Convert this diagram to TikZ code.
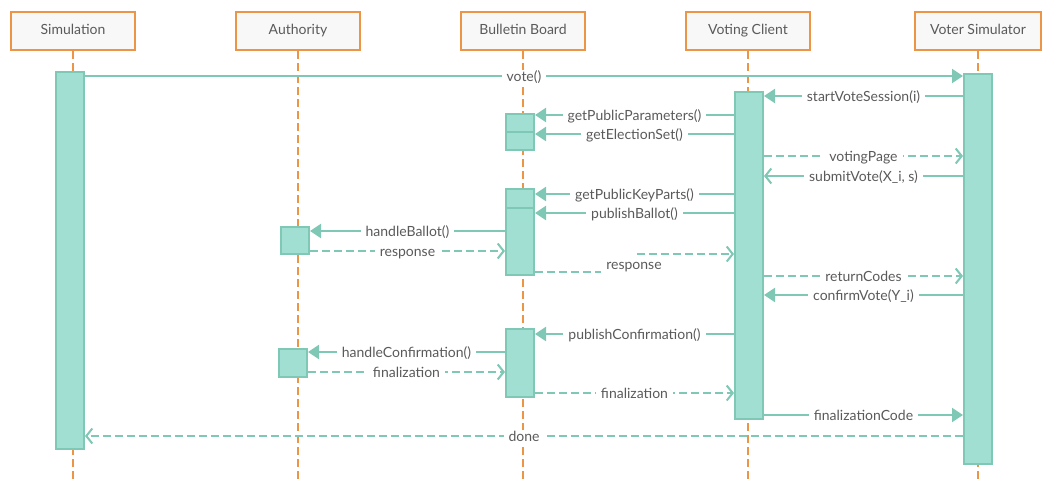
\documentclass[tikz,border=0pt]{standalone}
\usepackage{fontspec}
\setmainfont{Lato}
\usetikzlibrary{arrows.meta}
\definecolor{orng}{HTML}{EC9547}
\definecolor{teal}{HTML}{7FC8B6}
\definecolor{tealfill}{HTML}{A0DFD2}
\definecolor{headfill}{HTML}{F8F8F8}
\definecolor{txt}{HTML}{5A5A5A}
\tikzset{
  head/.style={draw=orng, line width=2pt, fill=headfill, minimum width=124, minimum height=38, text=txt, font=\fontsize{14}{16}\selectfont, anchor=north, inner sep=0pt, text height=10pt, text depth=3pt},
  life/.style={draw=orng, line width=2pt, dash pattern=on 8pt off 4pt},
  bar/.style={draw=teal, line width=2pt, fill=tealfill, minimum width=28, anchor=north, inner sep=0pt},
  msg/.style={draw=teal, line width=2pt, -{Triangle[length=11pt,width=14pt]}},
  rmsg/.style={draw=teal, line width=2pt, -{Straight Barb[length=6pt,width=15pt,line width=2pt]}},
  ret/.style={draw=teal, line width=2pt, dash pattern=on 8pt off 4pt, -{Straight Barb[length=6pt,width=15pt,line width=2pt]}},
  lbl/.style={fill=white, text=txt, font=\fontsize{14}{16}\selectfont, inner xsep=5pt, inner ysep=1pt, text height=10pt, text depth=3pt, yshift=-1.5pt}
}
\begin{document}
\begin{tikzpicture}[x=1pt,y=-1pt]
\useasboundingbox (0,0) rectangle (1055,490);
% heads
\node[head] (hsim) at (73,11) {Simulation};
\node[head] (hauth) at (298,11) {Authority};
\node[head] (hbb) at (523,11) {Bulletin Board};
\node[head] (hvc) at (748,11) {Voting Client};
\node[head, minimum width=126] (hvs) at (978,11) {Voter Simulator};
% lifelines
\coordinate (esim) at (73,480);
\coordinate (eauth) at (298,480);
\coordinate (ebb) at (523,480);
\coordinate (evc) at (748,480);
\coordinate (evs) at (978,480);
\draw[life] (hsim.south) -- (esim);
\draw[life] (hauth.south) -- (eauth);
\draw[life] (hbb.south) -- (ebb);
\draw[life] (hvc.south) -- (evc);
\draw[life] (hvs.south) -- (evs);
% bars
\node[bar, minimum height=377] (bsim) at (70,71) {};
\node[bar, minimum height=390] (bvs) at (978,73) {};
\node[bar, minimum height=327] (bvc) at (749,91) {};
\node[bar, minimum height=18] (bb1) at (520,113) {};
\node[bar, minimum height=18] (bb2) at (520,131) {};
\node[bar, minimum height=19] (bb3) at (520,188) {};
\node[bar, minimum height=67] (bb4) at (520,207) {};
\node[bar, minimum height=68] (bb5) at (520,328) {};
\node[bar, minimum height=27] (ba1) at (295,226) {};
\node[bar, minimum height=28] (ba2) at (293,348) {};
% messages
\draw[msg] (bsim.east |- 0,76) -- node[lbl] {vote()} (bvs.west |- 0,76);
\draw[msg] (bvs.west |- 0,96) -- node[lbl] {startVoteSession(i)} (bvc.east |- 0,96);
\draw[msg] (bvc.west |- 0,115) -- node[lbl] {getPublicParameters()} (bb1.east |- 0,115);
\draw[msg] (bvc.west |- 0,134) -- node[lbl] {getElectionSet()} (bb2.east |- 0,134);
\draw[ret] (bvc.east |- 0,156) -- node[lbl] {votingPage} (bvs.west |- 0,156);
\draw[rmsg] (bvs.west |- 0,176) -- node[lbl] {submitVote(X\_i, s)} (bvc.east |- 0,176);
\draw[msg] (bvc.west |- 0,194) -- node[lbl] {getPublicKeyParts()} (bb3.east |- 0,194);
\draw[msg] (bvc.west |- 0,213) -- node[lbl] {publishBallot()} (bb4.east |- 0,213);
\draw[msg] (bb4.west |- 0,231) -- node[lbl] {handleBallot()} (ba1.east |- 0,231);
\draw[ret] (ba1.east |- 0,251) -- node[lbl] {response} (bb4.west |- 0,251);
\draw[ret] (bb4.east |- 0,272) -- (634,272) -- (634,254) -- (bvc.west |- 0,254);
\node[lbl, minimum height=22, minimum width=66, yshift=0pt] (lresp) at (634,264) {response};
\draw[ret] (bvc.east |- 0,276) -- node[lbl] {returnCodes} (bvs.west |- 0,276);
\draw[msg] (bvs.west |- 0,295) -- node[lbl] {confirmVote(Y\_i)} (bvc.east |- 0,295);
\draw[msg] (bvc.west |- 0,334) -- node[lbl] {publishConfirmation()} (bb5.east |- 0,334);
\draw[msg] (bb5.west |- 0,352) -- node[lbl] {handleConfirmation()} (ba2.east |- 0,352);
\draw[ret] (ba2.east |- 0,372) -- node[lbl] {finalization} (bb5.west |- 0,372);
\draw[ret] (bb5.east |- 0,393) -- node[lbl] {finalization} (bvc.west |- 0,393);
\draw[msg] (bvc.east |- 0,415) -- node[lbl] {finalizationCode} (bvs.west |- 0,415);
\draw[ret] (bvs.west |- 0,436) -- node[lbl] {done} (bsim.east |- 0,436);
\end{tikzpicture}
\end{document}
